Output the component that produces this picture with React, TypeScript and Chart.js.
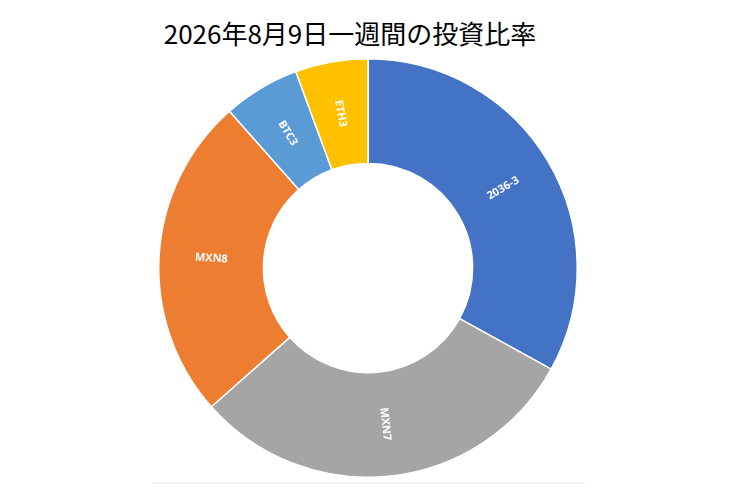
import React, { useEffect, useRef } from 'react';
import { Chart, registerables, Plugin } from 'chart.js';

Chart.register(...registerables);

const title = '2026年8月9日一週間の投資比率';
const labels = ['2036-3', 'MXN7', 'MXN8', 'BTC3', 'ETH3'];
const shares = [33.0, 30.4, 25.0, 5.9, 5.6];
const colors = ['#4472C4', '#A5A5A5', '#ED7D31', '#5B9BD5', '#FFC000'];

// draws each category name in the middle of its ring segment, along the radius
const radialLabels: Plugin<'doughnut'> = {
    id: 'radialLabels',
    afterDatasetsDraw(chart) {
        const ctx = chart.ctx;
        const meta = chart.getDatasetMeta(0);
        ctx.save();
        ctx.fillStyle = '#ffffff';
        ctx.font = 'bold 11px "Open Sans", sans-serif';
        ctx.textAlign = 'center';
        ctx.textBaseline = 'middle';
        meta.data.forEach((el, i) => {
            const { x, y, startAngle, endAngle, innerRadius, outerRadius } = (el as any).getProps(
                ['x', 'y', 'startAngle', 'endAngle', 'innerRadius', 'outerRadius'], true);
            const mid = (startAngle + endAngle) / 2;
            const r = (innerRadius + outerRadius) / 2;
            let rot = mid;
            while (rot > Math.PI / 2) rot -= Math.PI;
            while (rot < -Math.PI / 2) rot += Math.PI;
            ctx.save();
            ctx.translate(x + Math.cos(mid) * r, y + Math.sin(mid) * r);
            ctx.rotate(rot);
            ctx.fillText(String(chart.data.labels![i]), 0, 0);
            ctx.restore();
        });
        ctx.restore();
    },
};

export default function App() {
    const chartRef = useRef<HTMLCanvasElement>(null);
    const chartInstance = useRef<Chart | null>(null);

    useEffect(() => {
        if (!chartRef.current) return;
        if (chartInstance.current) chartInstance.current.destroy();

        chartInstance.current = new Chart(chartRef.current, {
            type: 'doughnut',
            data: {
                labels: labels,
                datasets: [{
                    data: shares,
                    backgroundColor: colors,
                    borderColor: '#ffffff',
                    borderWidth: 1.5,
                    hoverOffset: 0,
                }],
            },
            options: {
                animation: false,
                responsive: true,
                maintainAspectRatio: false,
                cutout: '50%',
                layout: { padding: { top: 58, bottom: 15, left: 0, right: 4 } },
                plugins: {
                    legend: { display: false },
                    tooltip: { enabled: false },
                },
            },
            plugins: [radialLabels],
        });

        return () => {
            if (chartInstance.current) {
                chartInstance.current.destroy();
                chartInstance.current = null;
            }
        };
    }, []);

    return (
        <div style={{ position: 'absolute', left: 0, top: 0, width: 740, height: 493, background: '#fff' }}>
            <div style={{
                position: 'absolute', left: 150, width: 400, top: 20, textAlign: 'center',
                fontFamily: '"Noto Sans CJK JP", sans-serif', fontSize: 26, lineHeight: '26px', color: '#000',
            }}>
                {title}
            </div>
            <div style={{ position: 'absolute', left: 153, top: 482, width: 432, height: 2, background: '#f1f1f1' }} />
            <div style={{ position: 'absolute', left: 0, top: 0, width: 740, height: 493 }}>
                <canvas ref={chartRef}></canvas>
            </div>
        </div>
    );
}
